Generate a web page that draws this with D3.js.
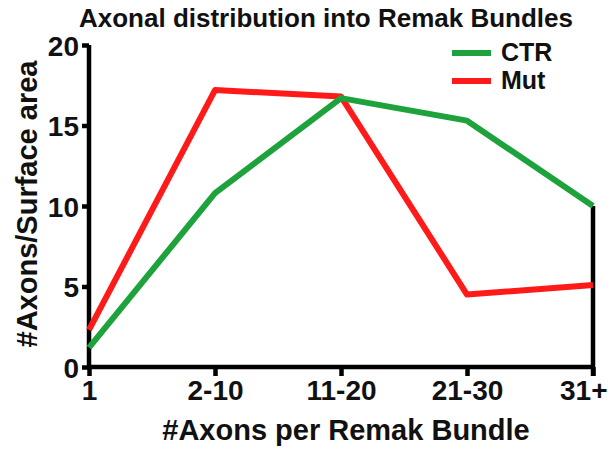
<!DOCTYPE html>
<html><head><meta charset="utf-8">
<script src="https://cdn.jsdelivr.net/npm/d3@7"></script>
<style>body{margin:0;background:#fff}svg{display:block}</style>
</head><body>
<svg id="c" width="608" height="450"></svg>
<script>
const categories = ["1", "2-10", "11-20", "21-30", "31+"];
const ctr = [1.2, 10.8, 16.7, 15.3, 10.0];
const mut = [2.3, 17.2, 16.8, 4.5, 5.1];
const yTicks = [0, 5, 10, 15, 20];

const svg = d3.select("#c");
const font = "'Liberation Sans', Arial, sans-serif";
const mLeft = 89, mRight = 593, mTop = 45, mBottom = 367;
const x = d3.scalePoint().domain(categories).range([mLeft, mRight]);
const y = d3.scaleLinear().domain([0, 20]).range([mBottom, mTop]);

const gx = svg.append("g").attr("transform", `translate(0,${mBottom})`)
  .call(d3.axisBottom(x).tickSize(9).tickPadding(4));
const gy = svg.append("g").attr("transform", `translate(${mLeft},0)`)
  .call(d3.axisLeft(y).tickValues(yTicks).tickSize(7).tickPadding(3));
[gx, gy].forEach(g => {
  g.select(".domain").attr("stroke", "#000").attr("stroke-width", 4.5);
  g.selectAll(".tick line").attr("stroke", "#000").attr("stroke-width", 4.5);
  g.selectAll(".tick text").attr("fill", "#111").style("font-family", font)
    .style("font-size", "28px").style("font-weight", "bold");
});
gx.select(".domain").attr("d", `M${mLeft},0H${mRight}`);
gy.select(".domain").attr("d", `M0,${mBottom}V${mTop}`);
gy.selectAll(".tick text").attr("dy", "0.36em");
// keep last x label inside the picture
gx.selectAll(".tick text").filter(d => d === categories[categories.length - 1])
  .attr("text-anchor", "end").attr("x", 14);

// right vertical line at last category
svg.append("line").attr("x1", x(categories[4])).attr("x2", x(categories[4]))
  .attr("y1", y(ctr[4])).attr("y2", y(0) + 9).attr("stroke", "#000").attr("stroke-width", 4.5);

const line = d3.line().x((d, i) => x(categories[i])).y(d => y(d));
svg.append("path").datum(mut).attr("d", line).attr("fill", "none")
  .attr("stroke", "#ff1a1a").attr("stroke-width", 6).attr("stroke-linejoin", "round");
svg.append("path").datum(ctr).attr("d", line).attr("fill", "none")
  .attr("stroke", "#1ea33c").attr("stroke-width", 6).attr("stroke-linejoin", "round");

svg.append("text").attr("x", 326).attr("y", 27).attr("text-anchor", "middle")
  .style("font-family", font).style("font-size", "26px").style("font-weight", "bold")
  .attr("fill", "#111").text("Axonal distribution into Remak Bundles");

svg.append("text").attr("x", 346).attr("y", 440).attr("text-anchor", "middle")
  .style("font-family", font).style("font-size", "29px").style("font-weight", "bold")
  .attr("fill", "#111").text("#Axons per Remak Bundle");

svg.append("text").attr("transform", "translate(37,204) rotate(-90)").attr("text-anchor", "middle")
  .style("font-family", font).style("font-size", "29px").style("font-weight", "bold")
  .attr("fill", "#111").text("#Axons/Surface area");

const legend = [{name: "CTR", color: "#1ea33c"}, {name: "Mut", color: "#ff1a1a"}];
legend.forEach((d, i) => {
  const yy = 53 + i * 28;
  svg.append("line").attr("x1", 452).attr("x2", 491).attr("y1", yy).attr("y2", yy)
    .attr("stroke", d.color).attr("stroke-width", 6);
  svg.append("text").attr("x", 501).attr("y", yy + 8)
    .style("font-family", font).style("font-size", "25px").style("font-weight", "bold")
    .attr("fill", "#111").text(d.name);
});
</script>
</body></html>
